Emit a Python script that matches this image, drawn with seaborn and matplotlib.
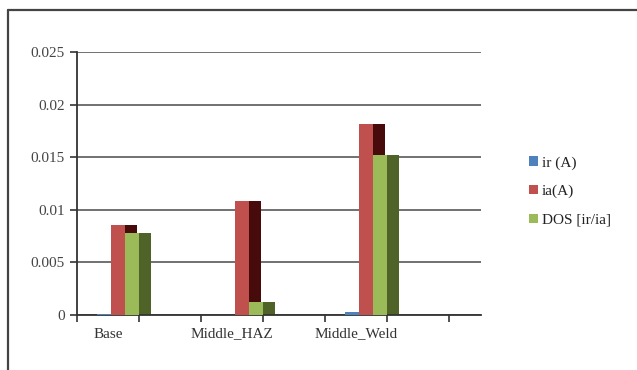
import matplotlib
matplotlib.use("Agg")
import matplotlib.pyplot as plt
from matplotlib.patches import Rectangle, Patch
from matplotlib.lines import Line2D
import pandas as pd
import seaborn as sns

# Data: corrosion currents and degree of sensitisation per zone
zones = ["Base", "Middle_HAZ", "Middle_Weld"]
series = ["ir (A)", "ia(A)", "DOS [ir/ia]"]
ir_vals = [0.000066, 0.000014, 0.000277]
ia_vals = [0.00855, 0.01084, 0.01818]
dos_vals = [0.00782, 0.00127, 0.01524]
y_ticks = [0, 0.005, 0.01, 0.015, 0.02, 0.025]
y_tick_labels = ["0", "0.005", "0.01", "0.015", "0.02", "0.025"]

front_colors = ["#4F81BD", "#C0504D", "#9BBB59"]
side_colors = ["#243F60", "#470B0B", "#4F6228"]

df = pd.DataFrame({
    "zone": zones * 3,
    "series": [s for s in series for _ in zones],
    "value": ir_vals + ia_vals + dos_vals,
})

sns.set_theme(style="white")
plt.rcParams["font.family"] = ["Liberation Serif", "DejaVu Serif"]

fig = plt.figure(figsize=(6.37, 3.70), dpi=100)
ax = fig.add_axes([0.1209, 0.1486, 0.6342, 0.7108])

sns.barplot(data=df, x="zone", y="value", hue="series", order=zones,
            hue_order=series, palette=front_colors, width=0.34,
            saturation=1, linewidth=0, legend=False, ax=ax)

# Shaded side faces give the columns a pseudo-3D look
for container, side in zip(ax.containers, side_colors):
    for bar in container:
        bar.set_zorder(3)
        depth = bar.get_width() * 0.86
        ax.add_patch(Rectangle((bar.get_x() + bar.get_width(), 0), depth,
                               bar.get_height(), facecolor=side,
                               linewidth=0, zorder=2))

ax.set_xlim(-0.33, 2.93)
ax.set_ylim(0, 0.025)
ax.set_yticks(y_ticks)
ax.set_yticklabels(y_tick_labels)

# Category dividers as ticks, names placed between them
ax.set_xticks([-0.33 + 0.5 * k for k in range(7)])
ax.set_xticklabels([])
ax.set_xticks([i - 0.08 for i in range(len(zones))], minor=True)
ax.set_xticklabels(zones, minor=True)
ax.tick_params(axis="x", which="minor", length=0, pad=9,
               labelsize=11, labelcolor="#333333")
ax.tick_params(axis="x", which="major", direction="out", length=5,
               width=1.2, color="#333333", bottom=True)
ax.tick_params(axis="y", direction="out", length=5, width=1.2,
               color="#333333", labelsize=11, labelcolor="#444444", left=True,
               pad=4)

ax.set_xlabel("")
ax.set_ylabel("")
ax.grid(axis="y", color="#4a4a4a", linewidth=1.1)
ax.grid(axis="x", visible=False)
ax.set_axisbelow(True)
for name in ["top", "right"]:
    ax.spines[name].set_visible(False)
for name in ["left", "bottom"]:
    ax.spines[name].set_color("#333333")
    ax.spines[name].set_linewidth(1.3)

handles = [Patch(facecolor=c, edgecolor="none") for c in front_colors]
fig.legend(handles, series, loc="center left",
           bbox_to_anchor=(0.819, 0.483), frameon=False, fontsize=11,
           handlelength=0.55, handleheight=0.55, handletextpad=0.25,
           labelspacing=1.0, labelcolor="#222222", borderpad=0)

# Chart-area frame
fig.add_artist(Line2D([0.0126, 1.0], [0.973, 0.973], color="#444444",
                      linewidth=1.6, transform=fig.transFigure))
fig.add_artist(Line2D([0.0126, 0.0126], [0.973, 0.0], color="#444444",
                      linewidth=1.6, transform=fig.transFigure))

fig.savefig("out.png", dpi=100, facecolor="white")
